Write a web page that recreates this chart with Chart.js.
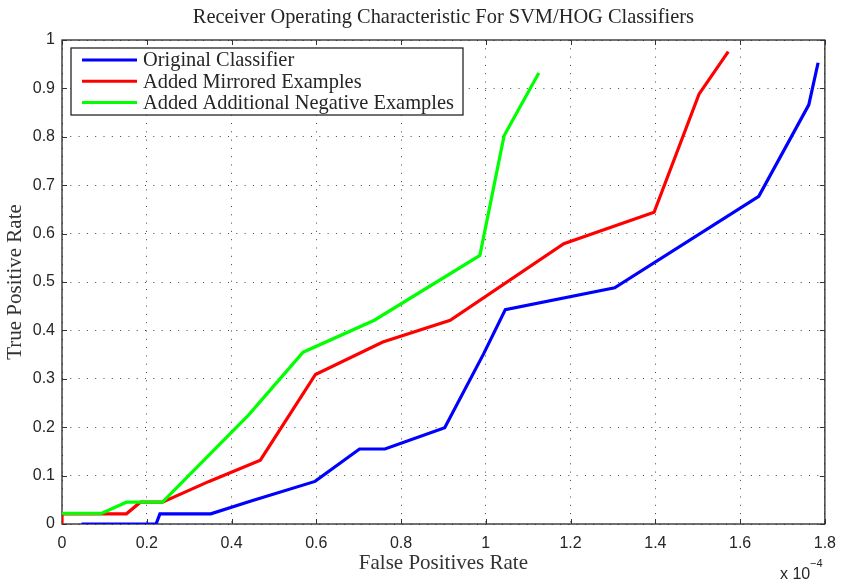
<!DOCTYPE html>
<html>
<head>
<meta charset="utf-8">
<script src="https://cdn.jsdelivr.net/npm/chart.js@4/dist/chart.umd.min.js"></script>
<style>
  html, body { margin: 0; padding: 0; background: #ffffff; }
  canvas { display: block; }
</style>
</head>
<body>
<canvas id="roc" width="846" height="584"></canvas>
<script>
// ROC curves: false positive rate (x 1e-4) against true positive rate
const origFpr = [0.046, 0.222, 0.231, 0.351, 0.448, 0.597, 0.702, 0.762, 0.903, 0.995, 1.046, 1.304, 1.644, 1.762, 1.784];
const origTpr = [0.000, 0.000, 0.021, 0.021, 0.048, 0.088, 0.155, 0.155, 0.199, 0.352, 0.443, 0.488, 0.677, 0.866, 0.953];

const mirrFpr = [0.000, 0.000, 0.152, 0.185, 0.237, 0.347, 0.468, 0.598, 0.757, 0.916, 1.184, 1.397, 1.503, 1.572];
const mirrTpr = [0.000, 0.021, 0.021, 0.045, 0.045, 0.088, 0.132, 0.309, 0.376, 0.421, 0.579, 0.644, 0.888, 0.976];

const negFpr = [0.000, 0.093, 0.152, 0.237, 0.440, 0.569, 0.737, 0.986, 1.043, 1.125];
const negTpr = [0.022, 0.022, 0.045, 0.045, 0.225, 0.355, 0.421, 0.555, 0.802, 0.932];

const seriesNames = ['Original Classifier', 'Added Mirrored Examples', 'Added Additional Negative Examples'];
const seriesColors = ['#0000ff', '#ff0000', '#00ff00'];
// later curves are painted over earlier ones
const seriesOrder = [2, 1, 0];

const xTickValues = [0, 0.2, 0.4, 0.6, 0.8, 1, 1.2, 1.4, 1.6, 1.8];
const yTickValues = [0, 0.1, 0.2, 0.3, 0.4, 0.5, 0.6, 0.7, 0.8, 0.9, 1];

const chartTitle = 'Receiver Operating Characteristic For SVM/HOG Classifiers';
const xLabel = 'False Positives Rate';
const yLabel = 'True Positive Rate';

const SERIF = '"Liberation Serif", "DejaVu Serif", serif';
const SANS = '"Liberation Sans", Arial, sans-serif';

function toPoints(xs, ys) {
  return xs.map((x, i) => ({ x: x, y: ys[i] }));
}

const seriesData = [toPoints(origFpr, origTpr), toPoints(mirrFpr, mirrTpr), toPoints(negFpr, negTpr)];

function fmtTick(v) {
  if (v === 0) return '0';
  if (v === 1) return '1';
  return String(Math.round(v * 10) / 10);
}

// Box, inward tick marks, title, legend and the axis multiplier
const framePlugin = {
  id: 'frame',
  beforeDatasetsDraw(chart) {
    const { ctx, chartArea: a, scales } = chart;
    ctx.save();
    ctx.strokeStyle = '#262626';
    ctx.lineWidth = 1.3;
    ctx.strokeRect(a.left, a.top, a.right - a.left, a.bottom - a.top);
    ctx.lineWidth = 1;
    ctx.strokeStyle = '#333333';
    const tl = 5;
    ctx.beginPath();
    xTickValues.forEach(v => {
      const px = Math.round(scales.x.getPixelForValue(v)) + 0.5;
      ctx.moveTo(px, a.bottom); ctx.lineTo(px, a.bottom - tl);
      ctx.moveTo(px, a.top); ctx.lineTo(px, a.top + tl);
    });
    yTickValues.forEach(v => {
      const py = Math.round(scales.y.getPixelForValue(v)) + 0.5;
      ctx.moveTo(a.left, py); ctx.lineTo(a.left + tl, py);
      ctx.moveTo(a.right, py); ctx.lineTo(a.right - tl, py);
    });
    ctx.stroke();
    ctx.restore();
  },
  afterDraw(chart) {
    const { ctx, chartArea: a } = chart;
    ctx.save();
    // title
    ctx.fillStyle = '#262626';
    ctx.font = '20.4px ' + SERIF;
    ctx.textAlign = 'center';
    ctx.textBaseline = 'middle';
    ctx.fillText(chartTitle, (a.left + a.right) / 2, 18);

    // legend
    const lx = 71, ly = 48, lw = 392, lh = 67;
    ctx.fillStyle = '#ffffff';
    ctx.fillRect(lx, ly, lw, lh);
    ctx.strokeStyle = '#262626';
    ctx.lineWidth = 1.3;
    ctx.strokeRect(lx, ly, lw, lh);
    ctx.font = '20.4px ' + SERIF;
    ctx.textAlign = 'left';
    ctx.textBaseline = 'middle';
    chart.data.datasets.forEach((ds, i) => {
      const ry = 60 + i * 21.2;
      ctx.strokeStyle = ds.borderColor;
      ctx.lineWidth = 3;
      ctx.beginPath();
      ctx.moveTo(82, ry); ctx.lineTo(137, ry);
      ctx.stroke();
      ctx.fillStyle = '#262626';
      ctx.fillText(ds.label, 143, ry + 1);
    });

    // x-axis multiplier
    ctx.font = '16px ' + SANS;
    ctx.textBaseline = 'alphabetic';
    ctx.fillStyle = '#262626';
    ctx.fillText('x 10', 780, 579);
    ctx.font = '11px ' + SANS;
    ctx.fillText('\u22124', 810, 567);
    ctx.restore();
  }
};

new Chart(document.getElementById('roc'), {
  type: 'scatter',
  data: {
    datasets: seriesData.map((pts, i) => ({
      label: seriesNames[i],
      data: pts,
      order: seriesOrder[i],
      showLine: true,
      borderColor: seriesColors[i],
      backgroundColor: seriesColors[i],
      borderWidth: 3.2,
      pointRadius: 0,
      pointHoverRadius: 0,
      fill: false,
      tension: 0,
      borderJoinStyle: 'miter'
    }))
  },
  options: {
    responsive: false,
    animation: false,
    events: [],
    layout: { autoPadding: false, padding: { top: 40, right: 16, bottom: 0, left: 0 } },
    plugins: {
      legend: { display: false },
      title: { display: false },
      tooltip: { enabled: false }
    },
    scales: {
      x: {
        type: 'linear',
        min: 0,
        max: 1.8,
        afterFit(s) { s.height = 60; },
        afterBuildTicks(s) { s.ticks = xTickValues.map(v => ({ value: v })); },
        ticks: {
          callback: v => fmtTick(v),
          font: { family: SANS, size: 16 },
          color: '#262626',
          padding: 10,
          maxRotation: 0,
          autoSkip: false
        },
        grid: { color: '#444444', lineWidth: 1, drawTicks: false },
        border: { display: false, dash: [1, 7.3] },
        title: {
          display: true,
          text: xLabel,
          font: { family: SERIF, size: 21 },
          color: '#333333',
          padding: { top: 0, bottom: 8 }
        }
      },
      y: {
        type: 'linear',
        min: 0,
        max: 1,
        afterFit(s) { s.width = 62; },
        afterBuildTicks(s) { s.ticks = yTickValues.map(v => ({ value: v })); },
        ticks: {
          callback: v => fmtTick(v),
          font: { family: SANS, size: 16 },
          color: '#262626',
          padding: 7,
          autoSkip: false
        },
        grid: { color: '#444444', lineWidth: 1, drawTicks: false },
        border: { display: false, dash: [1, 7.3] },
        title: {
          display: true,
          text: yLabel,
          font: { family: SERIF, size: 21 },
          color: '#333333',
          padding: { top: 3, bottom: 0 }
        }
      }
    }
  },
  plugins: [framePlugin]
});
</script>
</body>
</html>
